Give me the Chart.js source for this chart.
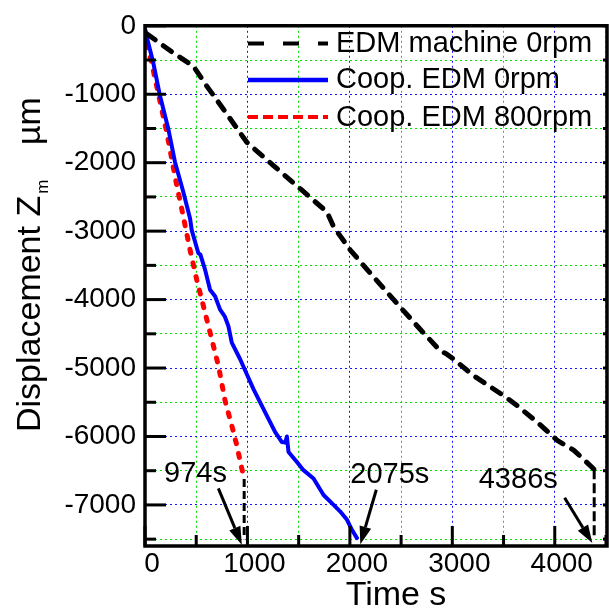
<!DOCTYPE html>
<html>
<head>
<meta charset="utf-8">
<script src="https://cdn.jsdelivr.net/npm/chart.js@4.4.0/dist/chart.umd.min.js"></script>
<style>
html,body{margin:0;padding:0;background:#ffffff;}
#wrap{width:609px;height:612px;position:relative;}
</style>
</head>
<body>
<div id="wrap"><canvas id="c" width="609" height="612"></canvas></div>
<script>
// ---------------- data ----------------
const seriesLabels = ['EDM machine 0rpm', 'Coop. EDM 0rpm', 'Coop. EDM 800rpm'];

const machineTime = [20, 277, 472, 603, 766, 994, 1254, 1515, 1645, 1776, 1841, 2004, 2199, 2427, 2688, 2884, 2940, 3014, 3209, 3502, 3633, 3829, 4024, 4187, 4385];
const machineDisp = [-120, -396, -590, -881, -1219, -1702, -2042, -2380, -2550, -2718, -2936, -3276, -3614, -4001, -4437, -4751, -4790, -4872, -5114, -5404, -5549, -5791, -6057, -6202, -6480];

const coop0Time = [0, 81, 147, 228, 293, 374, 440, 456, 521, 540, 587, 635, 684, 733, 780, 814, 847, 929, 994, 1059, 1124, 1189, 1271, 1336, 1370, 1385, 1401, 1483, 1547, 1645, 1743, 1841, 1906, 1972, 2020, 2069];
const coop0Disp = [-60, -541, -1026, -1509, -1993, -2428, -2816, -2985, -3324, -3340, -3566, -3856, -3952, -4147, -4250, -4388, -4630, -4872, -5090, -5308, -5501, -5694, -5936, -6081, -6090, -6000, -6226, -6372, -6492, -6614, -6855, -7000, -7097, -7218, -7363, -7485];

const coop800Time = [0, 10, 65, 114, 163, 212, 261, 310, 358, 440, 505, 587, 652, 717, 782, 847, 896, 945, 968];
const coop800Disp = [-60, -228, -541, -881, -1219, -1557, -1945, -2332, -2670, -3276, -3711, -4194, -4582, -4968, -5480, -5839, -6129, -6469, -6620];

// end-of-machining drops (black dashed verticals)
const drop800Time = [968, 968];
const drop800Disp = [-6620, -7500];
const dropMachineTime = [4385, 4385];
const dropMachineDisp = [-6480, -7500];

// axis ticks (labelled) and grid positions (major + minor)
const xTickValues = [0, 1000, 2000, 3000, 4000];
const yTickValues = [0, -1000, -2000, -3000, -4000, -5000, -6000, -7000];
const xGridValues = [0, 500, 1000, 1500, 2000, 2500, 3000, 3500, 4000, 4500];
const yGridValues = [-7500, -7000, -6500, -6000, -5500, -5000, -4500, -4000, -3500, -3000, -2500, -2000, -1500, -1000, -500, 0];

// end-time annotations
const endLabels = ['974s', '2075s', '4386s'];
const endLabelTime = [186, 2004, 3258];
const endLabelDisp = [-6662, -6686, -6759];
const arrowFromTime = [716, 2258, 4096];
const arrowFromDisp = [-6759, -6778, -6894];
const arrowToTime = [945, 2102, 4367];
const arrowToDisp = [-7581, -7576, -7557];

// ---------------- chart ----------------
const FONT = '"Liberation Sans", Arial, Helvetica, sans-serif';
const BLUE_GRID = 'rgb(20,20,255)';
const GREEN_GRID = 'rgb(0,225,0)';

function pts(xs, ys) { return xs.map((x, i) => ({x: x, y: ys[i]})); }

const legendStyles = [
  {color: '#000000', dash: [16, 19], width: 4},
  {color: '#0000ff', dash: [], width: 4.5},
  {color: '#ff0000', dash: [10, 5], width: 4}
];

const framePlugin = {
  id: 'framePlugin',
  afterDatasetsDraw(chart) {
    const ctx = chart.ctx;
    const xs = chart.scales.x, ys = chart.scales.y;
    const a = chart.chartArea;
    ctx.save();
    ctx.strokeStyle = '#000';
    ctx.lineCap = 'butt';
    ctx.lineWidth = 3;
    xs.ticks.forEach(t => {
      const px = xs.getPixelForValue(t.value);
      const len = (t.value % 1000 === 0) ? 20 : 11;
      ctx.beginPath(); ctx.moveTo(px, a.bottom); ctx.lineTo(px, a.bottom - len); ctx.stroke();
    });
    ys.ticks.forEach(t => {
      const py = ys.getPixelForValue(t.value);
      const len = (t.value % 1000 === 0) ? 21 : 11;
      ctx.beginPath(); ctx.moveTo(a.left, py); ctx.lineTo(a.left + len, py); ctx.stroke();
      ctx.beginPath(); ctx.moveTo(a.right, py); ctx.lineTo(a.right - 4, py); ctx.stroke();
    });
    ctx.lineWidth = 3.5;
    ctx.beginPath();
    ctx.rect(a.left, a.top, a.right - a.left, a.bottom - a.top);
    ctx.stroke();
    ctx.restore();
  },
  afterDraw(chart) {
    const ctx = chart.ctx;
    const xs = chart.scales.x, ys = chart.scales.y;
    ctx.save();
    // legend (inside plot, top right)
    const rowsY = [43.5, 80, 117];
    const baseY = [52, 88, 125.5];
    chart.data.datasets.slice(0, 3).forEach((ds, i) => {
      const st = legendStyles[i];
      ctx.strokeStyle = st.color;
      ctx.lineWidth = st.width;
      ctx.lineCap = 'butt';
      ctx.setLineDash(st.dash);
      ctx.beginPath(); ctx.moveTo(248, rowsY[i]); ctx.lineTo(328, rowsY[i]); ctx.stroke();
      ctx.setLineDash([]);
      ctx.fillStyle = '#000';
      ctx.font = '29px ' + FONT;
      ctx.textAlign = 'left';
      ctx.textBaseline = 'alphabetic';
      ctx.fillText(ds.label, 336, baseY[i]);
    });
    // annotations with arrows
    ctx.fillStyle = '#000';
    ctx.strokeStyle = '#000';
    ctx.font = '29px ' + FONT;
    ctx.textAlign = 'left';
    ctx.textBaseline = 'alphabetic';
    endLabels.forEach((lab, i) => {
      ctx.fillText(lab, xs.getPixelForValue(endLabelTime[i]), ys.getPixelForValue(endLabelDisp[i]));
      const x1 = xs.getPixelForValue(arrowFromTime[i]), y1 = ys.getPixelForValue(arrowFromDisp[i]);
      const x2 = xs.getPixelForValue(arrowToTime[i]), y2 = ys.getPixelForValue(arrowToDisp[i]);
      const ang = Math.atan2(y2 - y1, x2 - x1);
      const hl = 18, hw = 6;
      const bx = x2 - hl * Math.cos(ang), by = y2 - hl * Math.sin(ang);
      ctx.lineWidth = 3;
      ctx.lineCap = 'butt';
      ctx.beginPath(); ctx.moveTo(x1, y1); ctx.lineTo(bx, by); ctx.stroke();
      ctx.beginPath();
      ctx.moveTo(x2, y2);
      ctx.lineTo(bx + hw * Math.sin(ang), by - hw * Math.cos(ang));
      ctx.lineTo(bx - hw * Math.sin(ang), by + hw * Math.cos(ang));
      ctx.closePath(); ctx.fill();
    });
    // x title
    ctx.font = '34px ' + FONT;
    ctx.textAlign = 'center';
    ctx.fillText('Time s', 396, 605);
    // y title with subscript
    ctx.translate(40, 432);
    ctx.rotate(-Math.PI / 2);
    const f1 = '34px ' + FONT, f2 = '17px ' + FONT;
    ctx.textAlign = 'left';
    ctx.font = f1; const w1 = ctx.measureText('Displacement Z').width;
    ctx.font = f1; ctx.fillText('Displacement Z', 0, 0);
    ctx.font = f2; ctx.fillText('m', w1 + 2, 8);
    ctx.font = f1; ctx.fillText('\u00B5m', 287, 0);
    ctx.restore();
  }
};

const gridColor = (c) => (c.tick && Math.abs(c.tick.value) % 1000 === 0) ? BLUE_GRID : GREEN_GRID;

new Chart(document.getElementById('c'), {
  type: 'line',
  data: {
    datasets: [
      {label: seriesLabels[0], data: pts(machineTime, machineDisp), borderColor: '#000000', borderWidth: 5,
       borderDash: [10, 10], borderCapStyle: 'round', borderJoinStyle: 'round', pointRadius: 0, tension: 0, fill: false},
      {label: seriesLabels[1], data: pts(coop0Time, coop0Disp), borderColor: '#0000ff', borderWidth: 4,
       borderCapStyle: 'round', borderJoinStyle: 'round', pointRadius: 0, tension: 0, fill: false},
      {label: seriesLabels[2], data: pts(coop800Time, coop800Disp), borderColor: '#ff0000', borderWidth: 5,
       borderDash: [4, 10], borderCapStyle: 'round', borderJoinStyle: 'round', pointRadius: 0, tension: 0, fill: false},
      {label: 'drop800', data: pts(drop800Time, drop800Disp), borderColor: '#000000', borderWidth: 3,
       borderDash: [8, 4], pointRadius: 0, fill: false},
      {label: 'dropMachine', data: pts(dropMachineTime, dropMachineDisp), borderColor: '#000000', borderWidth: 3,
       borderDash: [10, 4], pointRadius: 0, fill: false}
    ]
  },
  options: {
    responsive: false,
    animation: false,
    devicePixelRatio: 1,
    layout: {padding: {top: 21, right: 2, left: 0, bottom: 0}},
    plugins: {legend: {display: false}, tooltip: {enabled: false}},
    scales: {
      x: {
        type: 'linear', min: 0, max: 4510,
        afterFit: (s) => { s.height = 66; },
        afterBuildTicks: (s) => { s.ticks = xGridValues.map(v => ({value: v})); },
        ticks: {autoSkip: false, maxRotation: 0, padding: 1, labelOffset: 7,
          color: '#000', font: {family: FONT, size: 28},
          callback: (v) => xTickValues.includes(v) ? String(v) : ''},
        grid: {color: gridColor, lineWidth: 1, drawTicks: false},
        border: {display: false, dash: [2, 3]}
      },
      y: {
        type: 'linear', min: -7600, max: 0,
        afterFit: (s) => { s.width = 145; },
        afterBuildTicks: (s) => { s.ticks = yGridValues.map(v => ({value: v})); },
        ticks: {autoSkip: false, padding: 9,
          color: '#000', font: {family: FONT, size: 28},
          callback: (v) => yTickValues.includes(v) ? String(v) : ''},
        grid: {color: gridColor, lineWidth: 1, drawTicks: false},
        border: {display: false, dash: [2, 3]}
      }
    }
  },
  plugins: [framePlugin]
});
</script>
</body>
</html>
